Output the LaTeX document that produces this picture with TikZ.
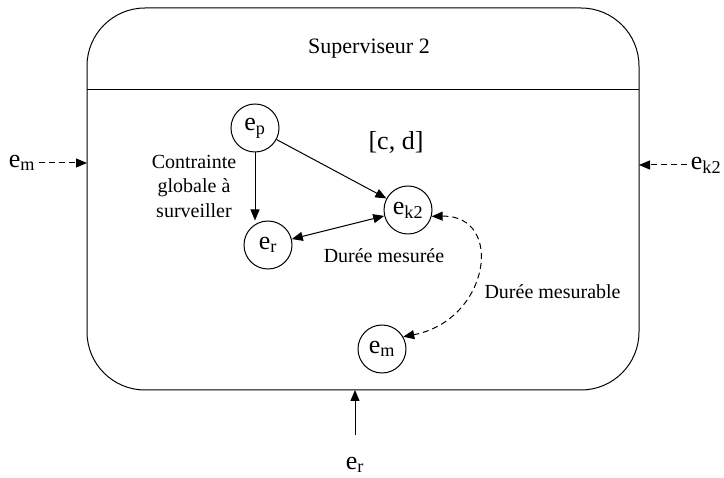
\documentclass[tikz,border=0pt]{standalone}
\usepackage{fontspec}
\setmainfont{Liberation Serif}
\usetikzlibrary{arrows.meta,positioning}
\newcommand{\ev}[1]{e\textsubscript{#1}}

\begin{document}
\begin{tikzpicture}[
  x=1pt,y=-1pt,
  every node/.style={font=\fontsize{20}{24.5}\selectfont},
  arr/.style={-{Triangle[length=11pt,width=9pt]},line width=1pt},
  dbl/.style={{Triangle[length=11pt,width=9pt]}-{Triangle[length=11pt,width=9pt]},line width=1pt},
  tirets/.style={dash pattern=on 6pt off 4pt},
  etat/.style={circle,draw,line width=1pt,minimum size=48pt,inner sep=0pt,
    font=\fontsize{26}{28}\selectfont},
  ext/.style={font=\fontsize{26}{28}\selectfont}
]
\useasboundingbox (0,0) rectangle (724,478);
% superviseur
\node[draw,line width=1pt,rounded corners=58pt,minimum width=552pt,
  minimum height=382pt,inner sep=0pt] (sup) at (363,199) {};
\node[font=\fontsize{22}{24}\selectfont] (titre) at (369,49) {Superviseur 2};
\coordinate (sepg) at (87,90);
\coordinate (sepd) at (639,90);
\draw[line width=1pt] (sepg) -- (sepd);
% etats
\node[etat] (ep) at (255,128) {\ev{p}};
\node[etat] (ek2) at (408,210) {\ev{k2}};
\node[etat] (er) at (268,245) {\ev{r}};
\node[etat] (em) at (382,349) {\ev{m}};
\draw[arr] (ep) -- (ek2);
\draw[arr] (ep) -- (ep |- er.north);
\draw[dbl] (er) -- (ek2);
\draw[dbl,tirets] (ek2.-15) .. controls (505,215) and (490,320) .. (em.30);
\node (cd) at (396,142) [font=\fontsize{26}{28}\selectfont] {[c, d]};
\node[align=center] (cg) at (194,186) {Contrainte\\globale à\\surveiller};
\node (dm) at (384,256) {Durée mesurée};
\node[anchor=west] (dml) at (481,292) {Durée mesurable};
% entrees
\node[ext] (inm) at (22,163) {\ev{m}};
\coordinate (inm2) at (87,163);
\draw[arr,tirets] (inm) -- (inm2);
\node[ext] (ink) at (706,165) {\ev{k2}};
\coordinate (ink2) at (639,165);
\draw[arr,tirets] (ink) -- (ink2);
\node[ext] (inr) at (355,465) {\ev{r}};
\coordinate (inr1) at (355,435);
\coordinate (inr2) at (355,390);
\draw[arr] (inr1) -- (inr2);
\end{tikzpicture}
\end{document}
